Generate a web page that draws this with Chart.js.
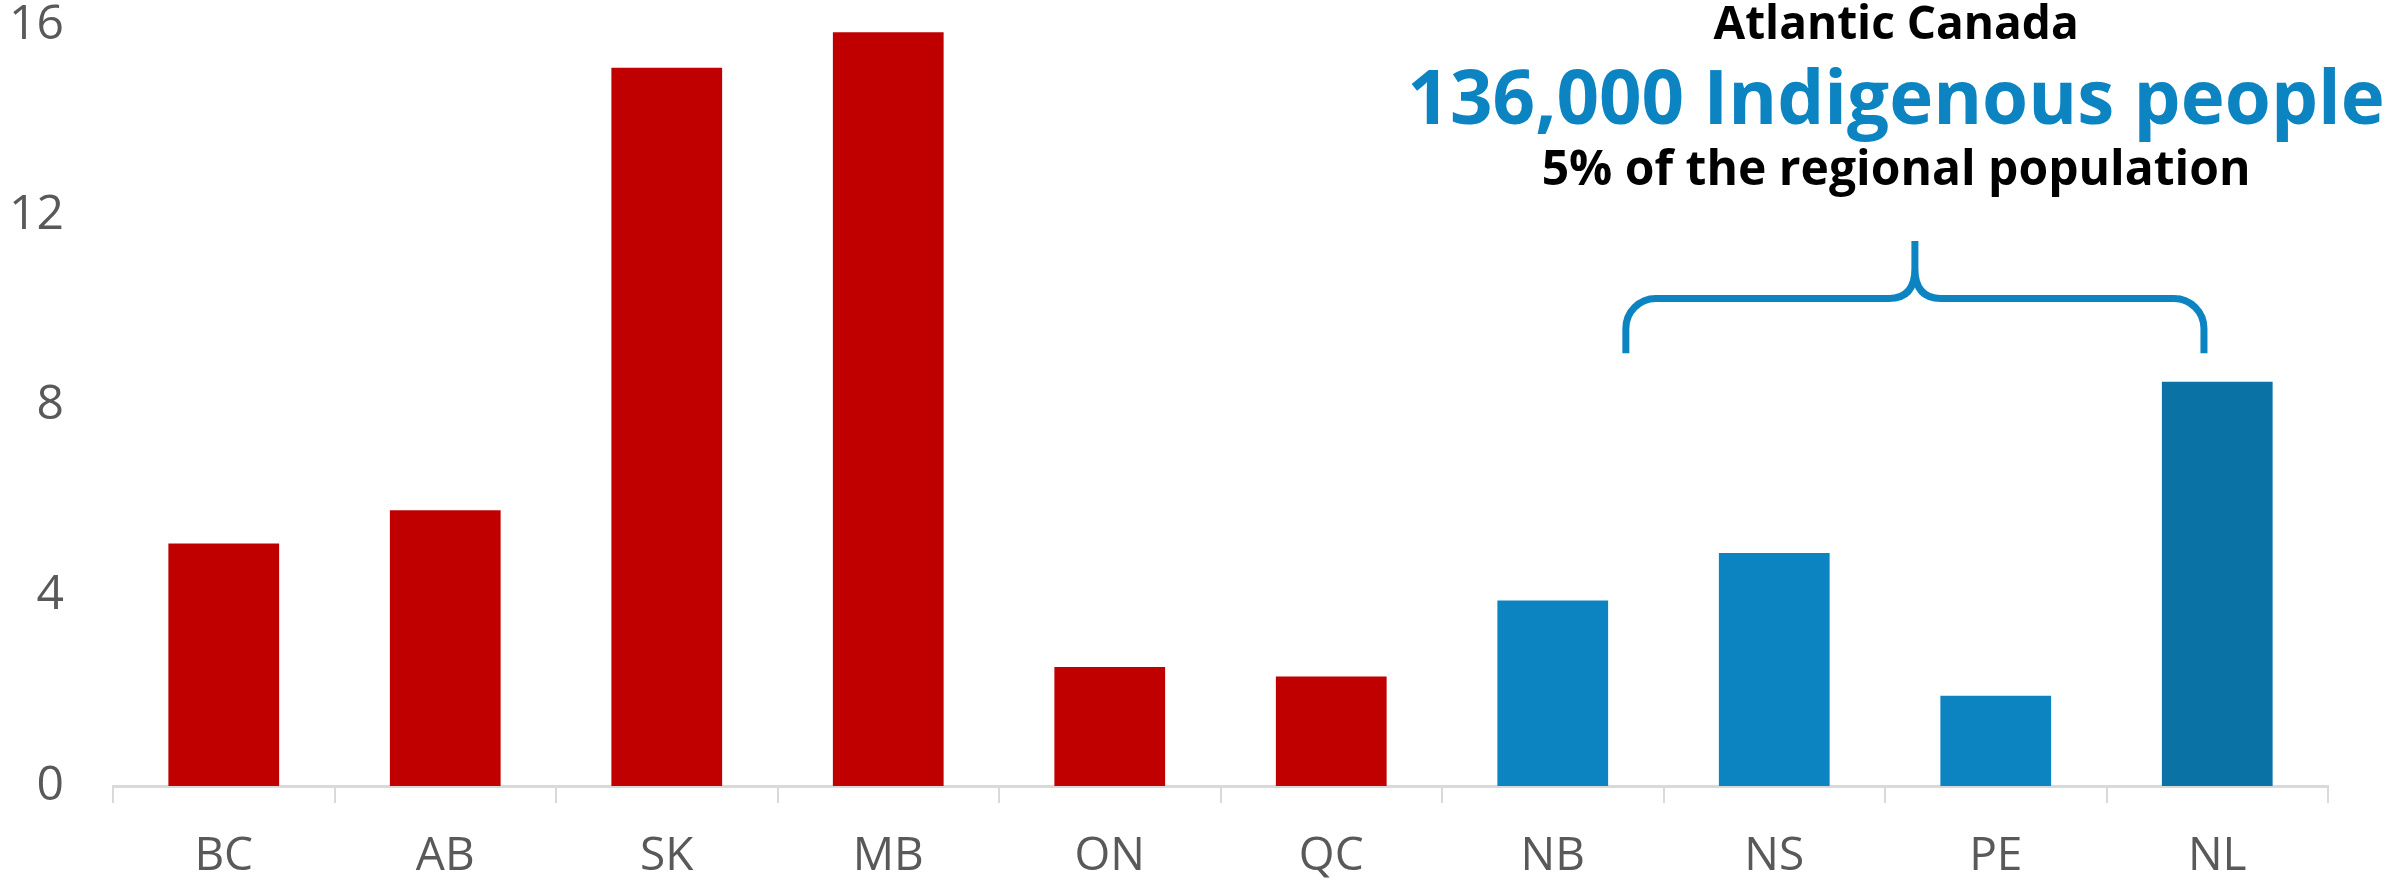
<!DOCTYPE html>
<html>
<head>
<meta charset="utf-8">
<script src="https://cdn.jsdelivr.net/npm/chart.js@4.4.1/dist/chart.umd.min.js"></script>
<style>
  html, body { margin: 0; padding: 0; background: #fff; }
  #wrap { width: 2390px; height: 884px; }
</style>
</head>
<body>
<div id="wrap"><canvas id="myChart" width="2390" height="884"></canvas></div>
<script>
// province / territory share (%)
var provinces = ["BC", "AB", "SK", "MB", "ON", "QC", "NB", "NS", "PE", "NL"];
var shares = [5.1, 5.8, 15.1, 15.85, 2.5, 2.3, 3.9, 4.9, 1.9, 8.5];
var yTicks = [0, 4, 8, 12, 16];

var noteLines = ["Atlantic Canada", "136,000 Indigenous people", "5% of the regional population"];

var red = 'rgb(192, 0, 0)';
var blue = 'rgb(12, 132, 193)';
var darkBlue = 'rgb(11, 114, 166)';
var barColors = [red, red, red, red, red, red, blue, blue, blue, darkBlue];

// brace + text over the atlantic bars
var bracePlugin = {
    id: 'brace',
    afterDatasetsDraw: function (chart) {
        var c = chart.ctx;
        var x = chart.scales.x, y = chart.scales.y;
        var xl = x.getPixelForValue(6.33);
        var xr = x.getPixelForValue(8.94);
        var xc = (xl + xr) / 2;
        var yb = y.getPixelForValue(9.1);
        var yh = y.getPixelForValue(10.25);
        var yt = y.getPixelForValue(11.46);
        var r = 30;

        c.save();
        c.strokeStyle = blue;
        c.lineWidth = 7;
        c.lineCap = 'butt';
        c.beginPath();
        c.moveTo(xl, yb);
        c.lineTo(xl, yh + r);
        c.arcTo(xl, yh, xl + r, yh, r);
        c.lineTo(xc - 26, yh);
        c.quadraticCurveTo(xc, yh, xc, yh - 30);
        c.lineTo(xc, yt);
        c.moveTo(xr, yb);
        c.lineTo(xr, yh + r);
        c.arcTo(xr, yh, xr - r, yh, r);
        c.lineTo(xc + 26, yh);
        c.quadraticCurveTo(xc, yh, xc, yh - 30);
        c.lineTo(xc, yt);
        c.stroke();

        var tx = x.getPixelForValue(7.55);
        c.textAlign = 'center';
        c.textBaseline = 'alphabetic';
        c.fillStyle = '#000';
        c.font = 'bold 46px "Open Sans"';
        c.fillText(noteLines[0], tx, y.getPixelForValue(15.7));
        c.fillStyle = blue;
        c.font = 'bold 74.5px "Open Sans"';
        c.fillText(noteLines[1], tx, y.getPixelForValue(13.92));
        c.fillStyle = '#000';
        c.font = 'bold 48px "Open Sans"';
        c.fillText(noteLines[2], tx, y.getPixelForValue(12.64));
        c.restore();
    }
};

var ctx = document.getElementById('myChart').getContext('2d');
var myChart = new Chart(ctx, {
    type: 'bar',
    data: {
        labels: provinces,
        datasets: [{
            data: shares,
            backgroundColor: barColors,
            barPercentage: 1,
            categoryPercentage: 0.5
        }]
    },
    options: {
        responsive: false,
        devicePixelRatio: 1,
        animation: false,
        layout: { padding: { top: 25, right: 62, left: 0, bottom: 0 } },
        plugins: { legend: { display: false }, tooltip: { enabled: false } },
        scales: {
            y: {
                min: 0,
                max: 16,
                afterBuildTicks: function (s) { s.ticks = yTicks.map(function (v) { return { value: v }; }); },
                afterFit: function (s) { s.width = 113; s.paddingTop = 0; s.paddingBottom = 0; },
                grid: { display: false, drawTicks: false },
                border: { display: false },
                ticks: { color: '#595959', padding: 49, font: { family: 'Open Sans', size: 48 } }
            },
            x: {
                afterFit: function (s) { s.height = 98; s.paddingLeft = 0; s.paddingRight = 0; },
                grid: {
                    drawOnChartArea: false,
                    drawTicks: true,
                    tickLength: 17,
                    lineWidth: 2,
                    color: function (c) { return c.index === provinces.length ? 'rgba(0,0,0,0)' : '#d9d9d9'; }
                },
                border: { display: true, color: '#d9d9d9', width: 3 },
                ticks: { color: '#595959', padding: 26, font: { family: 'Open Sans', size: 46 } }
            }
        }
    },
    plugins: [bracePlugin]
});
</script>
</body>
</html>
